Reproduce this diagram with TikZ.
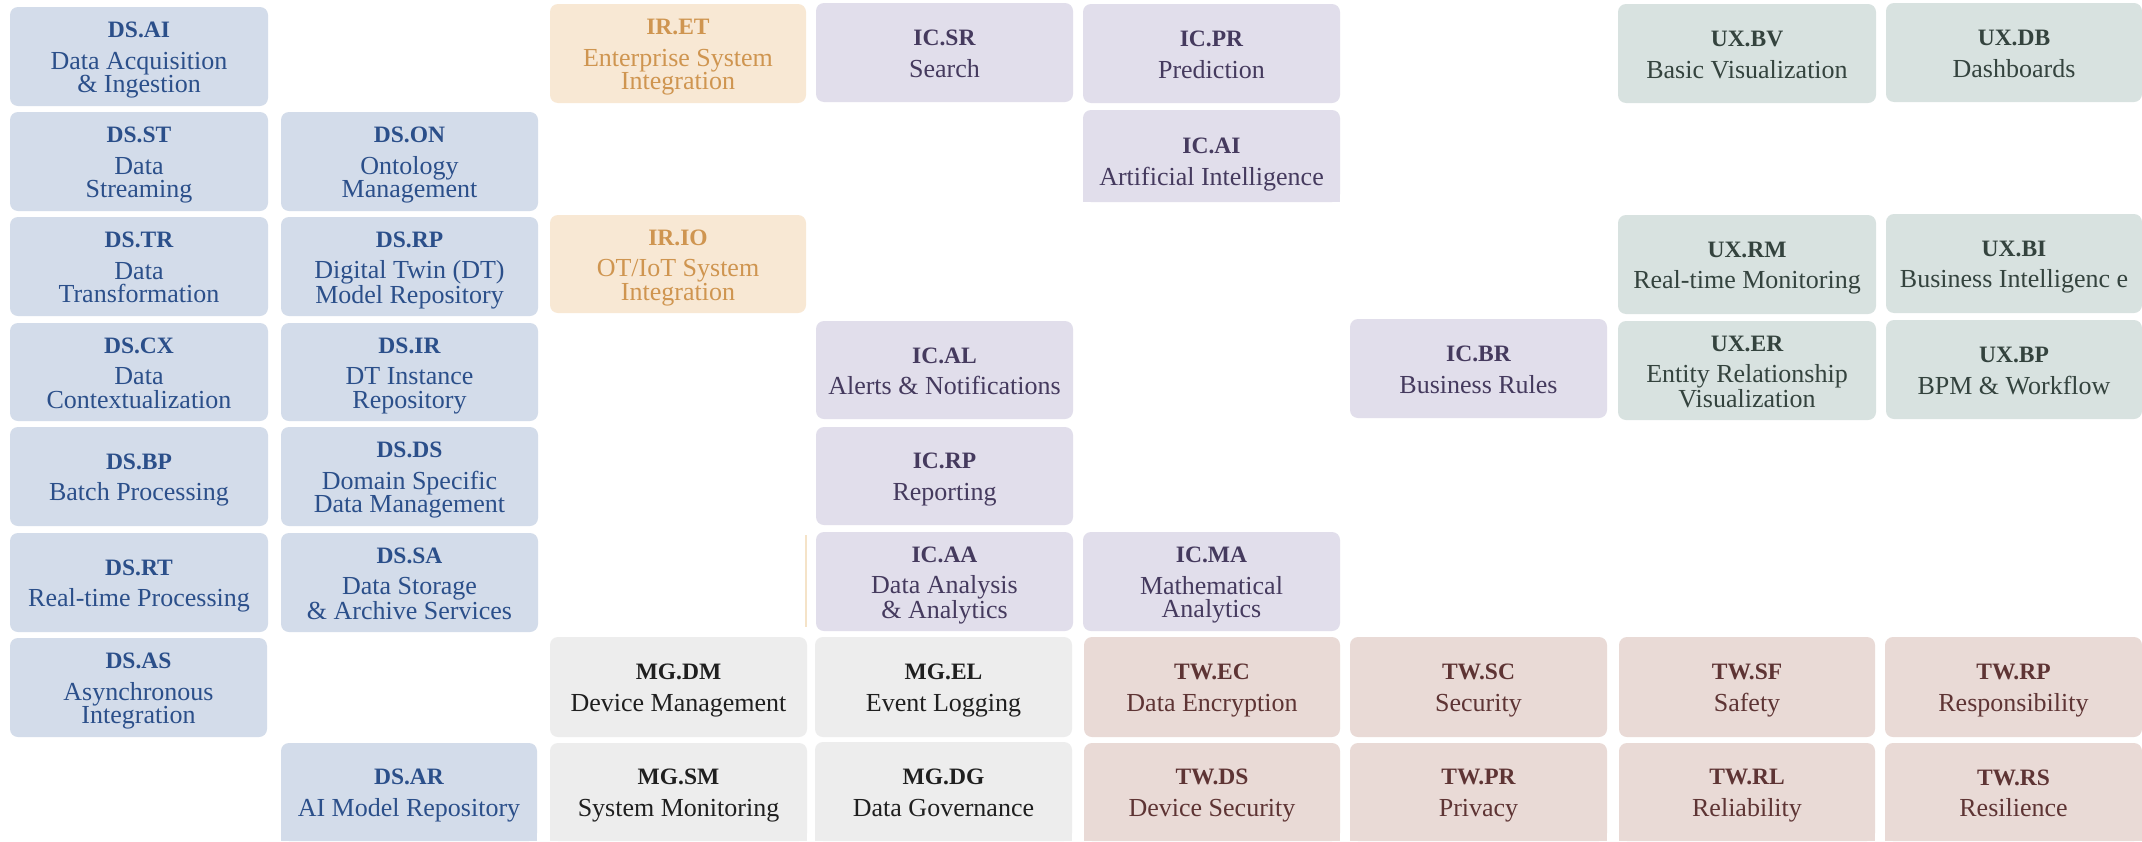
\documentclass[tikz,border=0pt]{standalone}
\usepackage{fontspec}
\setmainfont{Liberation Serif}
\definecolor{dsfill}{HTML}{D3DCEA}
\definecolor{dstext}{HTML}{2B4F8A}
\definecolor{irfill}{HTML}{F8E8D4}
\definecolor{irtext}{HTML}{CF9550}
\definecolor{icfill}{HTML}{E1DEEB}
\definecolor{ictext}{HTML}{453A5E}
\definecolor{uxfill}{HTML}{D8E2E0}
\definecolor{uxtext}{HTML}{34433E}
\definecolor{mgfill}{HTML}{EDEDED}
\definecolor{mgtext}{HTML}{1F1F1F}
\definecolor{twfill}{HTML}{E9DAD6}
\definecolor{twtext}{HTML}{5E3434}
\definecolor{faintline}{HTML}{F5E3C8}
\tikzset{
  cell/.style={rounded corners=8pt, inner sep=0pt, align=center, font=\fontsize{26}{23.5}\selectfont},
  ds/.style={cell, fill=dsfill, text=dstext},
  ir/.style={cell, fill=irfill, text=irtext},
  ic/.style={cell, fill=icfill, text=ictext},
  ux/.style={cell, fill=uxfill, text=uxtext},
  mg/.style={cell, fill=mgfill, text=mgtext},
  tw/.style={cell, fill=twfill, text=twtext},
}
\newcommand\cbx[7]{\node[#2, minimum width={#5pt-#3pt}, minimum height={#6pt-#4pt}] (#1) at ({(#3+#5)/2},{(#4+#6)/2}) {#7\rule[-5.5pt]{0pt}{0pt}};}
\newcommand\ttlh[2]{\rule{0pt}{#1}{\fontsize{23.5}{23.5}\selectfont\bfseries #2}\\[8pt]}
\newcommand\ttl[1]{\ttlh{23pt}{#1}}
\begin{document}
\begin{tikzpicture}[x=1pt,y=-1pt]
\clip (0,0) rectangle (2142,841);
\useasboundingbox (0,0) rectangle (2142,841);
\fill[white] (0,0) rectangle (2142,841);
% row 1
\cbx{dsai}{ds}{10}{7}{268}{106}{\ttl{DS.AI}Data Acquisition\\\& Ingestion}
\cbx{iret}{ir}{550}{4}{806}{103}{\ttl{IR.ET}Enterprise System\\Integration}
\cbx{icsr}{ic}{816}{3}{1073}{102}{\ttl{IC.SR}Search}
\cbx{icpr}{ic}{1083}{4}{1340}{103}{\ttl{IC.PR}Prediction}
\cbx{uxbv}{ux}{1618}{4}{1876}{103}{\ttl{UX.BV}Basic Visualization}
\cbx{uxdb}{ux}{1886}{3}{2142}{102}{\ttl{UX.DB}Dashboards}
% row 2
\cbx{dsst}{ds}{10}{112}{268}{211}{\ttl{DS.ST}Data\\Streaming}
\cbx{dson}{ds}{281}{112}{538}{211}{\ttl{DS.ON}Ontology\\Management}
\cbx{icai}{ic}{1083}{110}{1340}{202}{\ttlh{33pt}{IC.AI}Artificial Intelligence}
\fill[icfill] ([yshift=10pt]icai.south west) rectangle (icai.south east);
% row 3
\cbx{dstr}{ds}{10}{217}{268}{316}{\ttl{DS.TR}Data\\Transformation}
\cbx{dsrp}{ds}{281}{217}{538}{316}{\ttl{DS.RP}Digital Twin (DT)\\Model Repository}
\cbx{irio}{ir}{550}{215}{806}{313}{\ttl{IR.IO}OT/IoT System\\Integration}
\cbx{uxrm}{ux}{1618}{215}{1876}{314}{\ttl{UX.RM}Real-time Monitoring}
\cbx{uxbi}{ux}{1886}{214}{2142}{313}{\ttl{UX.BI}Business Intelligenc\ e}
% row 4
\cbx{dscx}{ds}{10}{323}{268}{421}{\ttl{DS.CX}Data\\Contextualization}
\cbx{dsir}{ds}{281}{323}{538}{421}{\ttl{DS.IR}DT Instance\\Repository}
\cbx{ical}{ic}{816}{321}{1073}{419}{\ttl{IC.AL}Alerts \& Notifications}
\cbx{icbr}{ic}{1350}{319}{1607}{418}{\ttl{IC.BR}Business Rules}
\cbx{uxer}{ux}{1618}{321}{1876}{420}{\ttl{UX.ER}Entity Relationship\\Visualization}
\cbx{uxbp}{ux}{1886}{320}{2142}{419}{\ttl{UX.BP}BPM \& Workflow}
% row 5
\cbx{dsbp}{ds}{10}{427}{268}{526}{\ttl{DS.BP}Batch Processing}
\cbx{dsds}{ds}{281}{427}{538}{526}{\ttl{DS.DS}Domain Specific\\Data Management}
\cbx{icrp}{ic}{816}{427}{1073}{525}{\ttl{IC.RP}Reporting}
% row 6
\cbx{dsrt}{ds}{10}{533}{268}{632}{\ttl{DS.RT}Real-time Processing}
\cbx{dssa}{ds}{281}{533}{538}{632}{\ttl{DS.SA}Data Storage\\\& Archive Services}
\cbx{icaa}{ic}{816}{532}{1073}{631}{\ttl{IC.AA}Data Analysis\\\& Analytics}
\cbx{icma}{ic}{1083}{532}{1340}{631}{\ttl{IC.MA}Mathematical\\Analytics}
\coordinate (fa) at (806,535);
\coordinate (fb) at (806,627);
\draw[faintline, line width=1.5pt] (fa) -- (fb);
% row 7
\cbx{dsas}{ds}{10}{638}{267}{737}{\ttl{DS.AS}Asynchronous\\Integration}
\cbx{mgdm}{mg}{550}{637}{807}{737}{\ttl{MG.DM}Device Management}
\cbx{mgel}{mg}{815}{637}{1072}{737}{\ttl{MG.EL}Event Logging}
\cbx{twec}{tw}{1084}{637}{1340}{737}{\ttl{TW.EC}Data Encryption}
\cbx{twsc}{tw}{1350}{637}{1607}{737}{\ttl{TW.SC}Security}
\cbx{twsf}{tw}{1619}{637}{1875}{737}{\ttl{TW.SF}Safety}
\cbx{twrp}{tw}{1885}{637}{2142}{737}{\ttl{TW.RP}Responsibility}
% row 8
\cbx{dsar}{ds}{281}{743}{537}{841}{\ttl{DS.AR}AI Model Repository}
\cbx{mgsm}{mg}{550}{743}{807}{841}{\ttl{MG.SM}System Monitoring}
\cbx{mgdg}{mg}{815}{742}{1072}{841}{\ttl{MG.DG}Data Governance}
\cbx{twds}{tw}{1084}{743}{1340}{841}{\ttl{TW.DS}Device Security}
\cbx{twpr}{tw}{1350}{743}{1607}{841}{\ttl{TW.PR}Privacy}
\cbx{twrl}{tw}{1619}{743}{1875}{841}{\ttl{TW.RL}Reliability}
\cbx{twrs}{tw}{1885}{743}{2142}{841}{\ttl{TW.RS}Resilience}
\fill[dsfill] ([yshift=10pt]dsar.south west) rectangle (dsar.south east);
\fill[mgfill] ([yshift=10pt]mgsm.south west) rectangle (mgsm.south east);
\fill[mgfill] ([yshift=10pt]mgdg.south west) rectangle (mgdg.south east);
\fill[twfill] ([yshift=10pt]twds.south west) rectangle (twds.south east);
\fill[twfill] ([yshift=10pt]twpr.south west) rectangle (twpr.south east);
\fill[twfill] ([yshift=10pt]twrl.south west) rectangle (twrl.south east);
\fill[twfill] ([yshift=10pt]twrs.south west) rectangle (twrs.south east);
\end{tikzpicture}
\end{document}
